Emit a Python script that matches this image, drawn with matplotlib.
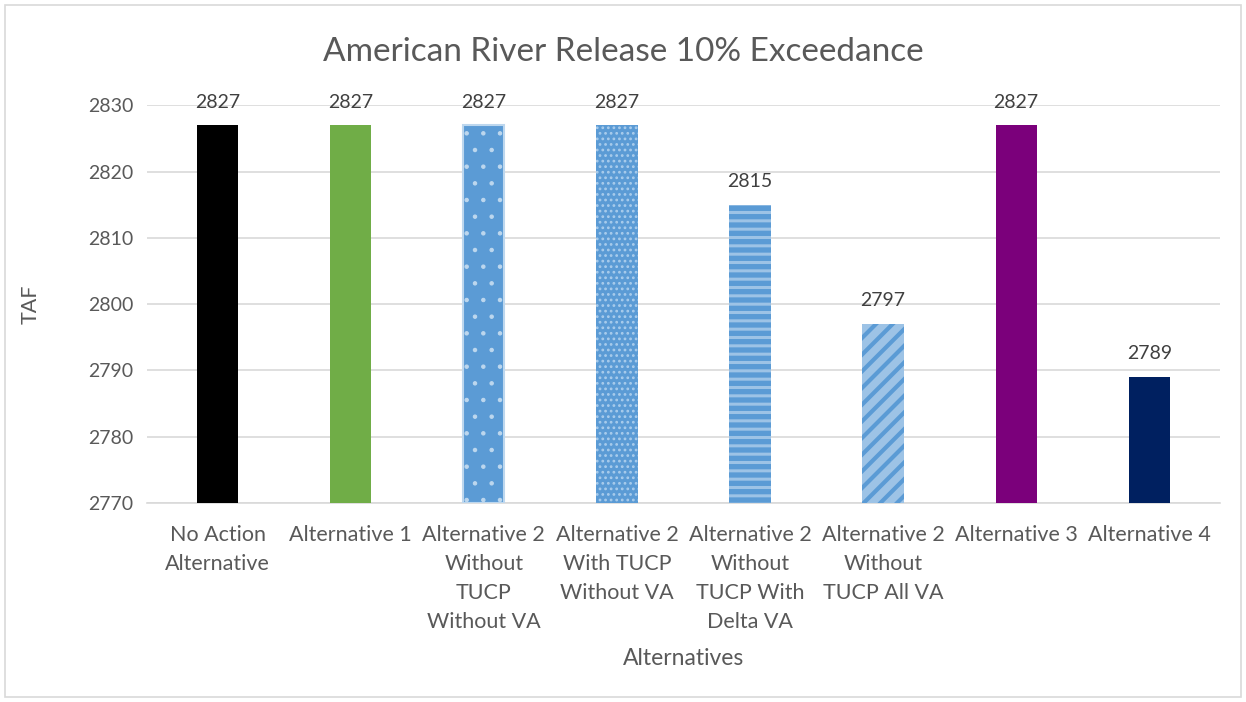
import numpy as np
import matplotlib as mpl
import matplotlib.pyplot as plt
from matplotlib.patches import Rectangle

plt.rcParams['font.family'] = ['Lato', 'DejaVu Sans']

categories = ['No Action\nAlternative', 'Alternative 1', 'Alternative 2\nWithout\nTUCP\nWithout VA',
              'Alternative 2\nWith TUCP\nWithout VA', 'Alternative 2\nWithout\nTUCP With\nDelta VA',
              'Alternative 2\nWithout\nTUCP All VA', 'Alternative 3', 'Alternative 4']
values = [2827, 2827, 2827, 2827, 2815, 2797, 2827, 2789]
faces = ['#000000', '#70AD47', '#5B9BD5', '#5B9BD5', '#5B9BD5', '#9DC3E6', '#7B007B', '#002060']
hatch_colors = [None, None, '#BDD7EE', '#A9CCEC', '#9DC3E6', '#5B9BD5', None, None]
hatches = [None, None, '.', '...', '--', '//', None, None]
hatch_lw = [1, 1, 0.8, 1.2, 2.2, 3.0, 1, 1]

fig = plt.figure(figsize=(12.46, 7.02), dpi=100)
ax = fig.add_axes([0.118, 0.2835, 0.861, 0.5665])

x = np.arange(len(categories))
for xi, v, fc, h, hc, lw in zip(x, values, faces, hatches, hatch_colors, hatch_lw):
    with mpl.rc_context({'hatch.linewidth': lw}):
        b = ax.bar(xi, v - 2770, bottom=2770, width=0.31, color=fc, zorder=3)[0]
        if h:
            b.set_hatch(h)
            b.set_edgecolor(hc)
            b.set_linewidth(0)
            if hasattr(b, 'set_hatch_linewidth'):
                b.set_hatch_linewidth(lw)
    if xi == 2:
        b.set_linewidth(1.5)

for xi, v in zip(x, values):
    ax.text(xi, v + 2.2, str(v), ha='center', va='bottom', fontsize=14, color='#404040')

ax.set_ylim(2770, 2830)
ax.set_xlim(-0.53, 7.53)
ax.set_yticks(np.arange(2770, 2831, 10))
ax.yaxis.grid(True, color='#D9D9D9', linewidth=1.2, zorder=0)
for s in ['top', 'right', 'left']:
    ax.spines[s].set_visible(False)
ax.spines['bottom'].set_color('#D9D9D9')
ax.spines['bottom'].set_linewidth(1.2)
ax.tick_params(length=0, labelsize=14, labelcolor='#595959', pad=10)
ax.tick_params(axis='x', pad=16, labelsize=15.5)
ax.set_xticks(x)
ax.set_xticklabels(categories, va='top', linespacing=1.55)
ax.set_ylabel('TAF', fontsize=15.5, color='#595959', labelpad=34)
ax.set_xlabel('Alternatives', fontsize=16.5, color='#595959', labelpad=12)
fig.text(0.5, 1 - 52 / 702, 'American River Release 10% Exceedance', fontsize=24, color='#595959',
         ha='center', va='center')

fig.patches.append(Rectangle((5 / 1246, 5 / 702), 1 - 10 / 1246, 1 - 10 / 702, transform=fig.transFigure,
                             fill=False, edgecolor='#D9D9D9', linewidth=1.2))

fig.savefig('out.png', dpi=100)
